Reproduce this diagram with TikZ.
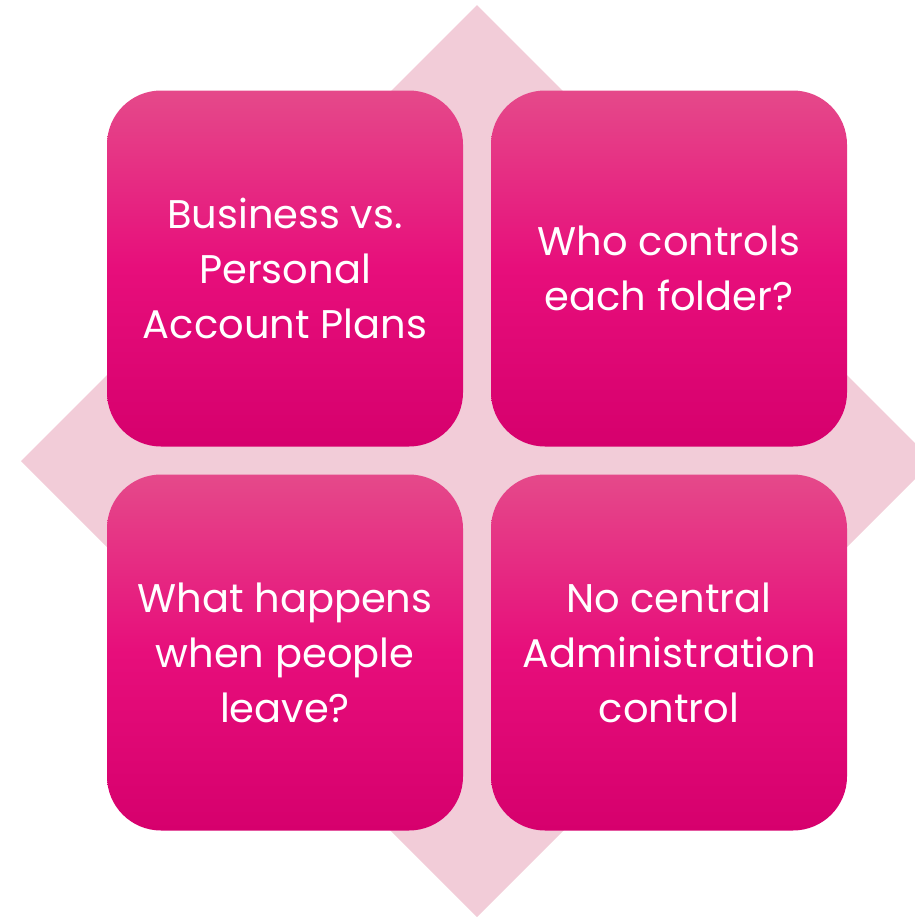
\documentclass[tikz,border=0pt]{standalone}
\usepackage{fontspec}
\setmainfont{Poppins}
\usetikzlibrary{arrows}

\definecolor{diamondpink}{HTML}{F2CCD8}
\definecolor{cardtop}{HTML}{E5498A}
\definecolor{cardmid}{HTML}{E70E7B}
\definecolor{cardbot}{HTML}{D6006D}

\begin{document}
\begin{tikzpicture}[
            x = 0.5pt, % one unit per pixel
            y = -0.5pt, % y runs downwards
            node distance = 192pt, % centre to centre of the cards
            semithick
        ]

        \tikzstyle{card}=[
            rounded corners = 27pt,
            minimum size = 178pt,
            inner sep = 0pt,
            top color = cardtop,
            bottom color = cardbot,
            middle color = cardmid,
            text = white,
            align = center,
            font = \fontsize{20}{27.5}\selectfont
        ]

        \useasboundingbox (0,0) rectangle (915,917);

        % backdrop diamond
        \fill[diamondpink] (477,5) -- (933,461) -- (477,917) -- (21,461) -- cycle;

        \node[card] (plans) at (285,268.5) {Business vs.\\Personal\\Account Plans};
        \node[card] (folder) [right of=plans] {Who controls\\each folder?};
        \node[card] (leave) [below of=plans] {What happens\\when people\\leave?};
        \node[card] (admin) [right of=leave] {No central\\Administration\\control};

  \end{tikzpicture}
\end{document}
